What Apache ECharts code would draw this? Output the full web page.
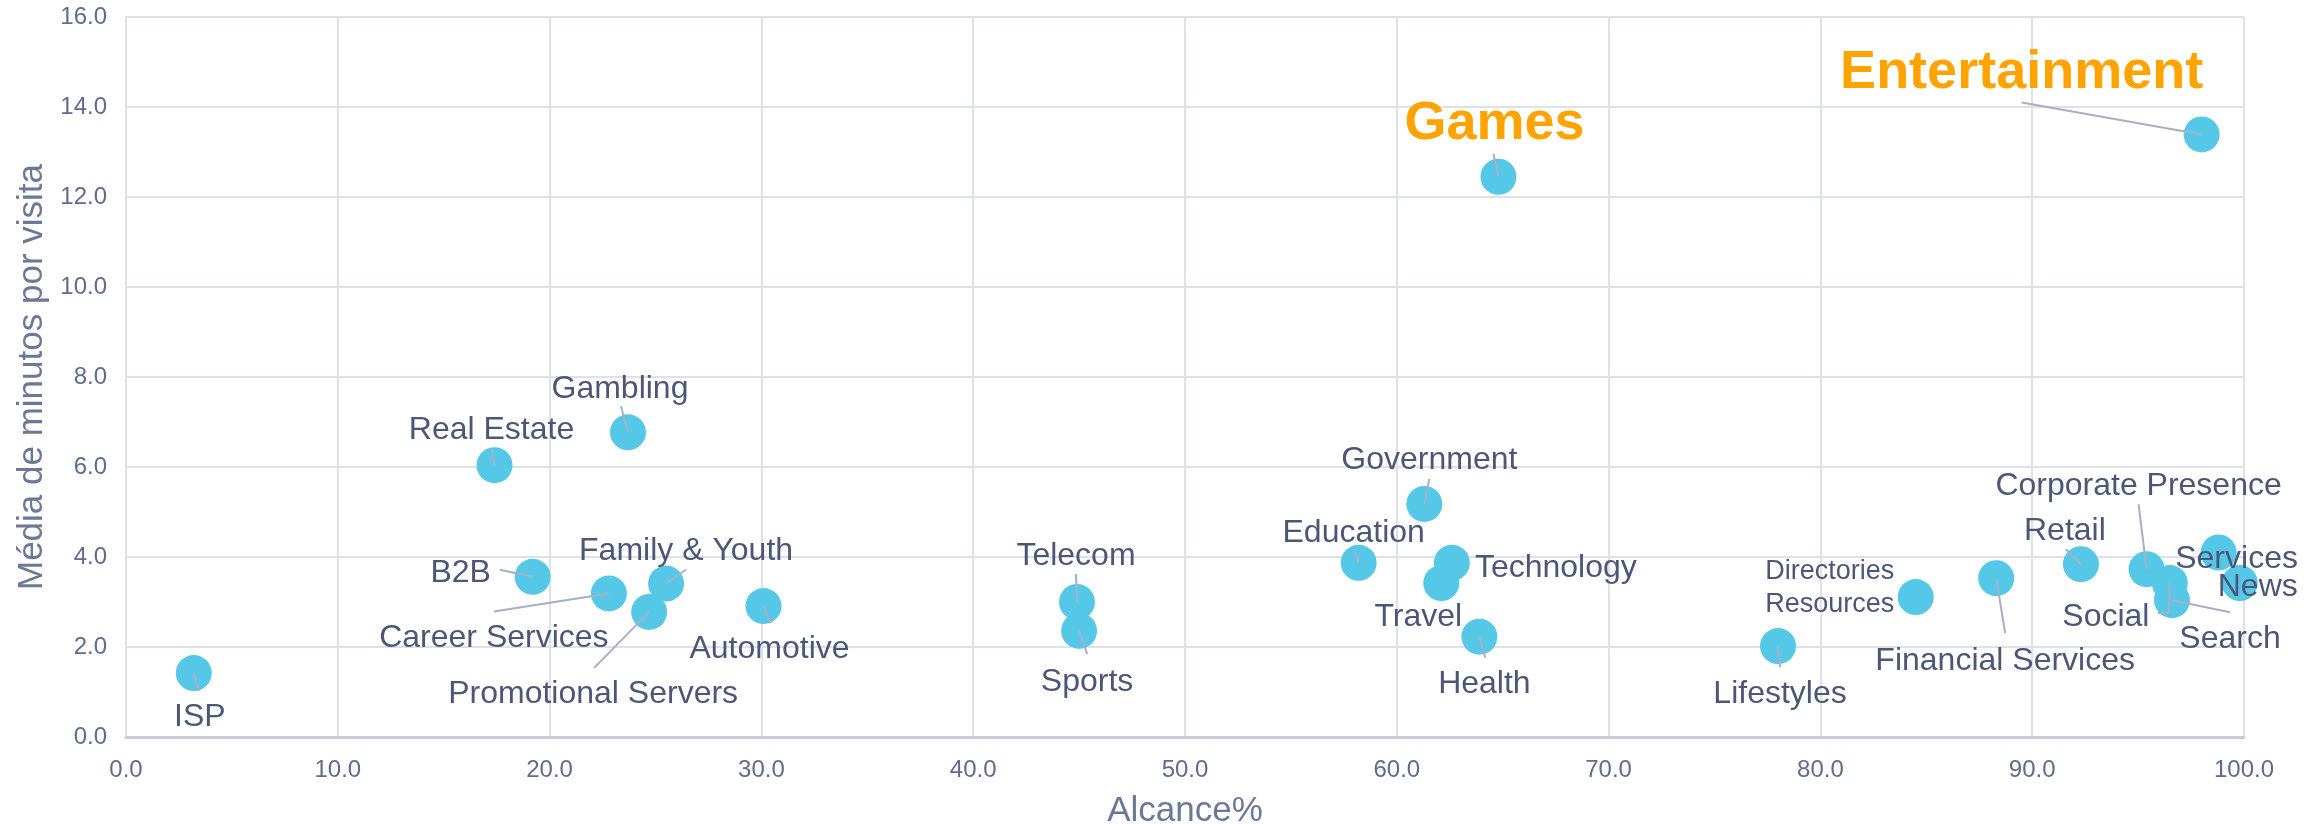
<!DOCTYPE html>
<html>
<head>
<meta charset="utf-8">
<script src="https://cdn.jsdelivr.net/npm/echarts@6/dist/echarts.min.js"></script>
<style>
  html, body { margin: 0; padding: 0; background: #ffffff; }
  #chart { width: 2323px; height: 824px; }
</style>
</head>
<body>
<div id="chart"></div>
<script>
// Sector names, reach (%) and average minutes per visit
const sectors = [
  'ISP', 'Real Estate', 'Gambling', 'B2B', 'Career Services', 'Family & Youth',
  'Promotional Servers', 'Automotive', 'Telecom', 'Sports', 'Government', 'Education',
  'Technology', 'Travel', 'Health', 'Games', 'Entertainment', 'Lifestyles',
  'Directories\nResources', 'Financial Services', 'Retail', 'Corporate Presence',
  'Social', 'Search', 'Services', 'News'
];
const reach = [
  3.2, 17.4, 23.7, 19.2, 22.8, 25.5,
  24.7, 30.1, 44.9, 45.0, 61.3, 58.2,
  62.6, 62.1, 63.9, 64.8, 98.0, 78.0,
  84.5, 88.3, 92.3, 95.4,
  96.5, 96.6, 98.8, 99.8
];
const minutes = [
  1.42, 6.04, 6.77, 3.56, 3.19, 3.41,
  2.78, 2.91, 3.00, 2.36, 5.18, 3.87,
  3.87, 3.42, 2.23, 12.45, 13.39, 2.02,
  3.11, 3.53, 3.84, 3.73,
  3.42, 3.04, 4.10, 3.42
];
const highlighted = ['Games', 'Entertainment'];

// Label placement (pixel offsets from each point) and leader line vertices
const labelOffsets = [
  [6, 44], [-3, -35], [-8, -43], [-72, -4], [-115, 45], [20, -32],
  [-56, 82], [6, 43], [-1, -46], [8, 51], [5, -44], [-5, -30],
  [104, 5], [-23, 34], [5, 48], [-4, -53], [-180, -61], [2, 48],
  [-86, -9], [9, 83], [-16, -33], [-8, -83],
  [-64, 34], [58, 39], [18, 7], [18, 4]
];
const leaderLines = [
  [[5, 18]], [[-3, -16]], [[-7, -26]], [[-33, -7]], [[-115, 18]], [[20, -14]],
  [[-55, 56]], [[7, 17]], [[-1, -28]], [[8, 23]], [[5, -25]], [[-4, -12]],
  [], [], [[6, 21]], [[-5, -23]], [[-180, -32]], [[2, 21]],
  [], [[9, 55]], [[-15, -15]], [[-8, -65]],
  [[-1, 30], [-12, 30]], [[58, 12]], [], []
];

const FONT = '"Liberation Sans", Arial, Helvetica, sans-serif';
const TEXT = '#4b5777';
const AXIS_TEXT = '#5f6c8e';
const GRID = '#dfe1ea';

const points = reach.map((x, i) => {
  const hot = highlighted.indexOf(sectors[i]) >= 0;
  const isDir = sectors[i].indexOf('\n') >= 0;
  return {
    name: sectors[i],
    value: [x, minutes[i], i],
    label: {
      offset: labelOffsets[i],
      fontSize: hot ? 54 : (isDir ? 27 : 32),
      fontWeight: hot ? 'bold' : 'normal',
      color: hot ? '#ffa300' : TEXT,
      lineHeight: isDir ? 33 : undefined
    }
  };
});

const chart = echarts.init(document.getElementById('chart'), null, { renderer: 'canvas' });
chart.setOption({
  animation: false,
  backgroundColor: '#ffffff',
  textStyle: { fontFamily: FONT },
  grid: { left: 126, right: 79, top: 17, bottom: 87, containLabel: false, outerBoundsMode: 'none' },
  xAxis: {
    type: 'value',
    min: 0, max: 100, interval: 10,
    name: 'Alcance%',
    nameLocation: 'middle',
    nameGap: 57,
    nameTextStyle: { fontSize: 35, color: '#6b7898', fontFamily: FONT },
    axisLine: { show: true, lineStyle: { color: '#c9ccda', width: 3 } },
    axisTick: { show: false },
    axisLabel: { fontSize: 24, color: AXIS_TEXT, margin: 21, fontFamily: FONT,
      formatter: v => v.toFixed(1) },
    splitLine: { show: true, lineStyle: { color: GRID, width: 2 } }
  },
  yAxis: {
    type: 'value',
    min: 0, max: 16, interval: 2,
    name: 'Média de minutos por visita',
    nameLocation: 'middle',
    nameGap: 68,
    nameTextStyle: { fontSize: 35, color: '#6b7898', fontFamily: FONT },
    axisLine: { show: true, lineStyle: { color: GRID, width: 2 } },
    axisTick: { show: false },
    axisLabel: { fontSize: 24, color: AXIS_TEXT, margin: 19, fontFamily: FONT,
      formatter: v => v.toFixed(1) },
    splitLine: { show: true, lineStyle: { color: GRID, width: 2 } }
  },
  series: [
    {
      type: 'scatter',
      z: 2,
      symbol: 'circle',
      symbolSize: 36,
      itemStyle: { color: '#55c8e8', opacity: 1 },
      label: {
        show: true,
        position: 'inside',
        align: 'center',
        verticalAlign: 'middle',
        fontFamily: FONT,
        formatter: p => p.name
      },
      emphasis: { disabled: true },
      data: points
    },
    {
      type: 'custom',
      z: 3,
      silent: true,
      clip: false,
      encode: { x: 0, y: 1 },
      data: reach.map((x, i) => [x, minutes[i], i]),
      renderItem: (params, api) => {
        const idx = api.value(2);
        const verts = leaderLines[idx];
        if (!verts || !verts.length) return { type: 'group', children: [] };
        const c = api.coord([api.value(0), api.value(1)]);
        const pts = [c].concat(verts.map(v => [c[0] + v[0], c[1] + v[1]]));
        return {
          type: 'polyline',
          shape: { points: pts },
          style: { stroke: '#a8afc4', lineWidth: 2, fill: null }
        };
      }
    }
  ]
});
</script>
</body>
</html>
